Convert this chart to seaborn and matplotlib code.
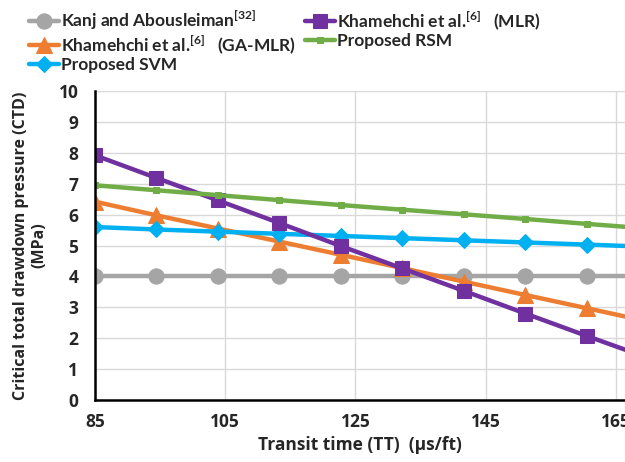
import pandas as pd
import matplotlib
matplotlib.use('Agg')
import matplotlib.pyplot as plt
import seaborn as sns

# Data
transit_time = [85, 94.4, 103.9, 113.3, 122.8, 132.2, 141.7, 151.1, 160.6, 170]
kanj = [4.03, 4.03, 4.03, 4.03, 4.03, 4.03, 4.03, 4.03, 4.03, 4.03]
khamehchi_ga_mlr = [6.42, 5.98, 5.55, 5.13, 4.70, 4.27, 3.83, 3.40, 2.97, 2.54]
proposed_svm = [5.60, 5.52, 5.45, 5.38, 5.31, 5.24, 5.17, 5.10, 5.03, 4.96]
khamehchi_mlr = [7.92, 7.19, 6.46, 5.73, 4.98, 4.26, 3.53, 2.80, 2.07, 1.36]
proposed_rsm = [6.95, 6.79, 6.63, 6.47, 6.31, 6.16, 6.01, 5.86, 5.70, 5.55]

sns.set_theme(style='white')
plt.rcParams['font.family'] = ['Open Sans', 'DejaVu Sans']
plt.rcParams['mathtext.fontset'] = 'custom'
plt.rcParams['mathtext.rm'] = 'Lato:bold'
plt.rcParams['mathtext.bf'] = 'Lato:bold'

series = [
    ('Kanj and Abousleiman$^{[32]}$', kanj, '#A5A5A5', 'o', 11),
    ('Khamehchi et al.$^{[6]}$   (GA-MLR)', khamehchi_ga_mlr, '#ED7D31', '^', 11),
    ('Proposed SVM', proposed_svm, '#00B0F0', 'D', 8),
    ('Khamehchi et al.$^{[6]}$   (MLR)', khamehchi_mlr, '#7030A0', 's', 10),
    ('Proposed RSM', proposed_rsm, '#70AD47', 's', 5),
]

fig = plt.figure(figsize=(6.25, 4.62), dpi=100)
ax = fig.add_axes([0.152, 0.134, 0.848, 0.669])

for name, vals, col, mk, ms in series:
    df = pd.DataFrame({'TT': transit_time, 'CTD': vals})
    sns.lineplot(data=df, x='TT', y='CTD', ax=ax, color=col, marker=mk,
                 markersize=ms, markeredgecolor=col, linewidth=3.2, label=name)

ax.set_xlim(85, 166.4)
ax.set_ylim(0, 10)
ax.set_xticks([85, 105, 125, 145, 165])
ax.set_yticks(range(0, 11))
ax.grid(True, color='#D9D9D9', linewidth=1)
ax.set_axisbelow(True)
for s in ['top', 'right']:
    ax.spines[s].set_visible(False)
for s in ['left', 'bottom']:
    ax.spines[s].set_color('black')
    ax.spines[s].set_linewidth(1.8)
ax.tick_params(length=0, pad=12, labelsize=12.5)
ax.tick_params(axis='x', pad=9)
for lbl in ax.get_xticklabels() + ax.get_yticklabels():
    lbl.set_fontweight('bold')

ax.set_xlabel('Transit time (TT)  (\u03bcs/ft)', fontsize=12.5, fontweight='bold', labelpad=4)
ax.set_ylabel('Critical total drawdown pressure (CTD)\n(MPa)', fontsize=11.5,
              fontweight='bold', labelpad=8)

handles, labels = ax.get_legend_handles_labels()
ax.get_legend().remove()
fig.legend(handles, labels, loc='upper left', bbox_to_anchor=(0.035, 0.995), ncol=2,
           frameon=False, prop={'family': 'Lato', 'weight': 'bold', 'size': 12.5},
           handlelength=1.75, handletextpad=0.1, columnspacing=0.5, labelspacing=0.05,
           borderaxespad=0)

fig.savefig('out.png', dpi=100)
